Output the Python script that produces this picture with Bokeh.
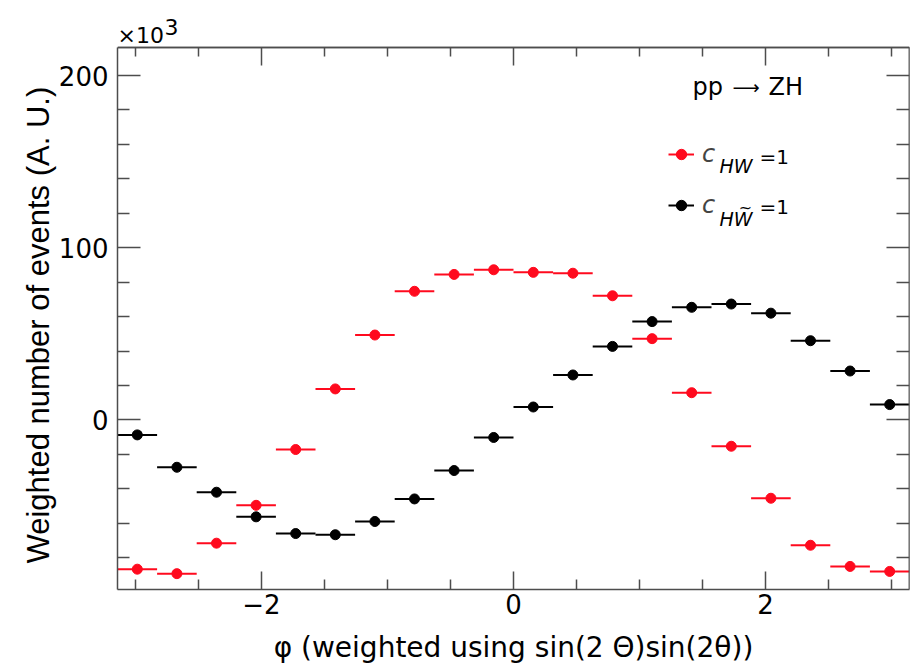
import numpy as np
from bokeh.plotting import figure
from bokeh.models import (ColumnDataSource, FixedTicker, LinearAxis, Label,
                          Legend, LegendItem, CustomJSTickFormatter)
from bokeh.embed import file_html
from bokeh.resources import INLINE

# ---------------- data (event weights in units of 10^3) ----------------
n_bins = 20
phi_edges = np.linspace(-np.pi, np.pi, n_bins + 1)
phi_lo = phi_edges[:-1]
phi_hi = phi_edges[1:]
phi_mid = 0.5 * (phi_lo + phi_hi)

chw_values = [-86.7, -89.3, -71.6, -49.6, -17.2, 18.0, 49.3, 74.7, 84.5, 87.2,
              85.7, 85.2, 72.1, 47.2, 15.8, -15.3, -45.5, -72.8, -85.1, -88.0]
chwt_values = [-8.7, -27.5, -42.0, -56.3, -66.0, -66.7, -59.0, -45.9, -29.4, -10.2,
               7.5, 26.1, 42.7, 57.1, 65.4, 67.3, 62.0, 46.0, 28.4, 8.9]

x_major = [-2, 0, 2]
x_minor = [-3, -2.5, -1.5, -1, -0.5, 0.5, 1, 1.5, 2.5, 3]
y_major = [0, 100, 200]
y_minor = [-80, -60, -40, -20, 20, 40, 60, 80, 120, 140, 160, 180]

x_title = "φ (weighted using sin(2 Θ)sin(2θ))"
y_title = "Weighted number of events (A. U.)"

RED = "#ff0a1e"
BLACK = "#000000"
AXC = "#4d4d4d"
FONT = "DejaVu Sans"
YFONT = "Liberation Sans"

# ---------------- layout ----------------
Y_LO, Y_HI = -98.5, 216.3          # visible data window of the framed area
PX_TOP, PX_BOT, PX_LEFT = 47, 589, 117   # framed area, canvas pixels
y_per_px = (Y_HI - Y_LO) / (PX_BOT - PX_TOP)
y_canvas_top = Y_HI + PX_TOP * y_per_px

src_red = ColumnDataSource(dict(x=phi_mid, lo=phi_lo, hi=phi_hi, y=chw_values))
src_blk = ColumnDataSource(dict(x=phi_mid, lo=phi_lo, hi=phi_hi, y=chwt_values))

p = figure(width=913, height=666, output_backend="svg", toolbar_location=None,
           x_range=(-np.pi, np.pi), y_range=(Y_LO, y_canvas_top),
           min_border_left=PX_LEFT, min_border_right=4, min_border_top=0,
           min_border_bottom=666 - PX_BOT, x_axis_type=None, y_axis_type=None)
p.outline_line_color = None
p.xgrid.visible = False
p.ygrid.visible = False
p.background_fill_color = "white"
p.border_fill_color = "white"

fmt = CustomJSTickFormatter(code="return tick < 0 ? '\\u2212' + (-tick) : '' + tick;")


def style_axis(ax, major_in, minor_in):
    ax.axis_line_color = AXC
    ax.axis_line_width = 1.5
    ax.major_tick_line_color = AXC
    ax.minor_tick_line_color = AXC
    ax.major_tick_line_width = 1.5
    ax.minor_tick_line_width = 1.5
    ax.major_tick_in = major_in
    ax.major_tick_out = 0
    ax.minor_tick_in = minor_in
    ax.minor_tick_out = 0
    ax.major_label_text_font = FONT
    ax.axis_label_text_font = FONT
    ax.axis_label_text_font_style = "normal"
    ax.axis_label_text_color = "black"
    ax.major_label_text_color = "black"


# bottom axis
xb = LinearAxis(ticker=FixedTicker(ticks=x_major, minor_ticks=x_minor), formatter=fmt,
                axis_label=x_title)
style_axis(xb, 18, 10)
xb.major_label_text_font_size = "26px"
xb.major_label_standoff = 4
xb.axis_label_text_font_size = "28px"
xb.axis_label_standoff = 14
p.add_layout(xb, "below")

# left axis (label padded so that it sits where the original title sits)
yl = LinearAxis(ticker=FixedTicker(ticks=y_major, minor_ticks=y_minor), formatter=fmt,
                axis_label=y_title + "\u00a0" * 7, bounds=(Y_LO, Y_HI))
style_axis(yl, 23, 12)
yl.axis_label_text_font = YFONT
yl.major_label_text_font_size = "26px"
yl.major_label_standoff = 9
yl.axis_label_text_font_size = "31px"
yl.axis_label_standoff = 0
p.add_layout(yl, "left")

# top and right frame edges: tick marks only
for ticks, length in ((x_major, 18), (x_minor, 9)):
    ax = LinearAxis(ticker=FixedTicker(ticks=[], minor_ticks=ticks), fixed_location=Y_HI)
    style_axis(ax, 0, length)
    p.add_layout(ax, "above")
for ticks, length in ((y_major, 23), (y_minor, 13)):
    ax = LinearAxis(ticker=FixedTicker(ticks=[], minor_ticks=ticks), fixed_location=np.pi,
                    bounds=(Y_LO, Y_HI))
    style_axis(ax, 0, length)
    p.add_layout(ax, "right")

# ---------------- data marks ----------------
r_seg = p.segment(x0="lo", x1="hi", y0="y", y1="y", source=src_red,
                  line_color=RED, line_width=2)
r_pts = p.scatter(x="x", y="y", source=src_red, size=10, marker="circle",
                  fill_color=RED, line_color=RED)
b_seg = p.segment(x0="lo", x1="hi", y0="y", y1="y", source=src_blk,
                  line_color=BLACK, line_width=2)
b_pts = p.scatter(x="x", y="y", source=src_blk, size=10, marker="circle",
                  fill_color=BLACK, line_color=BLACK)

# ---------------- legend ----------------
legend = Legend(items=[LegendItem(label="c", renderers=[r_seg, r_pts]),
                       LegendItem(label="c", renderers=[b_seg, b_pts])],
                location=(551, 365), glyph_width=26, glyph_height=30,
                label_height=38, spacing=13, padding=0, margin=0,
                label_text_font=FONT, label_text_font_size="24px",
                label_text_font_style="italic", label_standoff=8,
                label_text_baseline="middle",
                background_fill_alpha=0, border_line_color=None)
p.add_layout(legend)


def add_text(txt, px, baseline, size, style="normal", align="left", font=FONT):
    # px, baseline: canvas pixels of the text start and its baseline
    mid = baseline - 0.346 * size
    p.add_layout(Label(x=px - PX_LEFT, y=PX_BOT - mid, x_units="screen", y_units="screen",
                       text=txt, text_font=font, text_font_size=f"{size}px",
                       text_font_style=style, text_baseline="middle",
                       text_align=align, text_color="black"))


# legend subscripts and values
add_text("HW", 719, 172, 19, "italic")
add_text("=1", 759, 163.5, 20)
add_text("HW", 719, 225, 19, "italic")
add_text("~", 745, 207 + 0.346 * 16, 16, "normal", "center")
add_text("=1", 759, 213.5, 20)

# process label
add_text("pp", 692, 95, 24)
add_text("\u27f6", 732, 86.7 + 0.346 * 19, 19)
add_text("ZH", 768, 95, 24)

# exponent label
add_text("\u00d710", 117, 42.3, 22)
add_text("3", 164, 34.3, 22)

open("out.html", "w").write(file_html(p, INLINE))
